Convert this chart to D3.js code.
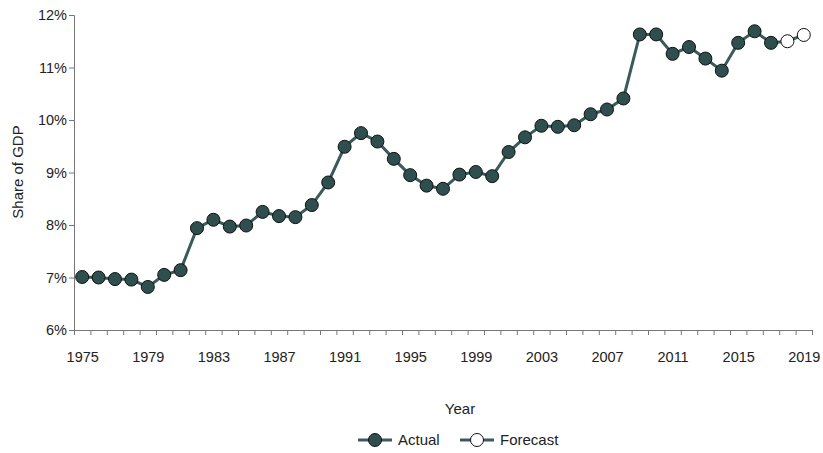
<!DOCTYPE html>
<html><head><meta charset="utf-8">
<script src="https://cdn.jsdelivr.net/npm/d3@7"></script>
<style>body{margin:0;background:#fff}svg{display:block}text{font-family:"Liberation Sans",Arial,sans-serif}</style>
</head><body><svg id="c" width="823" height="453"></svg>
<script>
const actualYears = d3.range(1975, 2018);
const actualValues = [7.01,7.00,6.97,6.96,6.82,7.05,7.14,7.94,8.10,7.97,7.99,8.25,8.17,8.15,8.38,8.81,9.49,9.75,9.59,9.26,8.95,8.75,8.69,8.96,9.01,8.93,9.39,9.67,9.89,9.87,9.90,10.11,10.20,10.41,11.63,11.63,11.26,11.39,11.17,10.94,11.47,11.69,11.47];
const forecastYears = [2017, 2018, 2019];
const forecastValues = [11.47, 11.50, 11.62];
const xTickLabels = [1975,1979,1983,1987,1991,1995,1999,2003,2007,2011,2015,2019];
const yTicks = [6,7,8,9,10,11,12];

const svg = d3.select("#c");
const x = d3.scaleLinear().domain([1974.5, 2019.5]).range([74, 812]);
const y = d3.scaleLinear().domain([6, 12]).range([330, 15]);
const lineCol = "#3b5b5b", dotCol = "#2f4f4f", txt = "#222";

// axes
const gx = svg.append("g").attr("transform","translate(0,330)");
gx.call(d3.axisBottom(x).tickValues(d3.range(1974.5, 2020, 1)).tickSize(5).tickFormat(""));
const gxl = svg.append("g").attr("transform","translate(0,330)");
gxl.call(d3.axisBottom(x).tickValues(xTickLabels).tickSize(0).tickPadding(22).tickFormat(d3.format("d")));
gxl.select(".domain").remove();
const gy = svg.append("g").attr("transform","translate(74,0)");
gy.call(d3.axisLeft(y).tickValues(yTicks).tickSize(5).tickPadding(2).tickFormat(d => d + "%"));
svg.selectAll(".domain, .tick line").attr("stroke","#777");
svg.selectAll(".tick text").attr("font-size","14.5px").attr("fill",txt).attr("font-family","'Liberation Sans',Arial,sans-serif");

svg.append("text").attr("transform","translate(23,172) rotate(-90)").attr("text-anchor","middle")
  .attr("font-size","15px").attr("fill",txt).text("Share of GDP");
svg.append("text").attr("x",460).attr("y",414).attr("text-anchor","middle")
  .attr("font-size","15px").attr("fill",txt).text("Year");

// lines
const line = d3.line().x(d => x(d[0])).y(d => y(d[1]));
const actual = actualYears.map((yr,i) => [yr, actualValues[i]]);
const forecast = forecastYears.map((yr,i) => [yr, forecastValues[i]]);
svg.append("path").datum(forecast).attr("d", line).attr("fill","none").attr("stroke",lineCol).attr("stroke-width",3);
svg.append("path").datum(actual).attr("d", line).attr("fill","none").attr("stroke",lineCol).attr("stroke-width",3);
svg.selectAll(".a").data(actual).join("circle").attr("cx",d=>x(d[0])).attr("cy",d=>y(d[1])).attr("r",6.5)
  .attr("fill",dotCol).attr("stroke","#111").attr("stroke-width",1);
svg.selectAll(".f").data(forecast.slice(1)).join("circle").attr("cx",d=>x(d[0])).attr("cy",d=>y(d[1])).attr("r",6.5)
  .attr("fill","#fff").attr("stroke","#111").attr("stroke-width",1);

// legend
const leg = svg.append("g").attr("transform","translate(0,440)");
[[358,"Actual",dotCol],[460,"Forecast","#fff"]].forEach(([lx,label,fill]) => {
  leg.append("line").attr("x1",lx).attr("x2",lx+34).attr("y1",0).attr("y2",0).attr("stroke",lineCol).attr("stroke-width",3);
  leg.append("circle").attr("cx",lx+17).attr("cy",0).attr("r",6.5).attr("fill",fill).attr("stroke","#111").attr("stroke-width",1);
  leg.append("text").attr("x",lx+40).attr("y",5).attr("font-size","15px").attr("fill",txt).text(label);
});
</script></body></html>
